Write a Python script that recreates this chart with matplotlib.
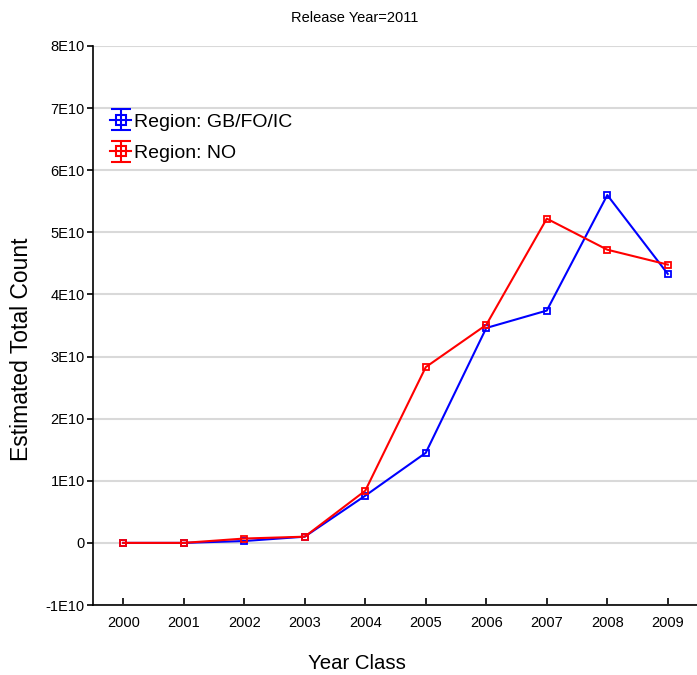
import numpy as np
import matplotlib
matplotlib.use("Agg")
import matplotlib.pyplot as plt
from matplotlib.legend_handler import HandlerErrorbar
from matplotlib.container import ErrorbarContainer

plt.rcParams['font.family'] = ['Liberation Sans', 'DejaVu Sans']

# Data
years = [2000, 2001, 2002, 2003, 2004, 2005, 2006, 2007, 2008, 2009]
gb_fo_ic = [0.0, 0.0, 0.03e10, 0.10e10, 0.76e10, 1.45e10, 3.46e10, 3.74e10, 5.60e10, 4.33e10]
no = [0.0, 0.0, 0.07e10, 0.10e10, 0.84e10, 2.83e10, 3.51e10, 5.22e10, 4.72e10, 4.48e10]
yticks = np.arange(-1e10, 8.01e10, 1e10)
ytick_labels = ["-1E10", "0", "1E10", "2E10", "3E10", "4E10", "5E10", "6E10", "7E10", "8E10"]

fig = plt.figure(figsize=(6.97, 6.75), dpi=100)
ax = fig.add_axes([0.1334, 0.1037, 0.8681, 0.8282])

series = [(gb_fo_ic, "#0000ff", "Region: GB/FO/IC"), (no, "#ff0000", "Region: NO")]
handles = []
for vals, col, lab in series:
    ax.plot(years, vals, color=col, lw=1.5, marker="s", ms=5, mfc="none", mec=col, mew=1.3, zorder=3)
    # legend handle drawn in errorbar style
    h = ax.errorbar([np.nan], [np.nan], yerr=[[1], [1]], color=col, lw=1.5, marker="s", ms=6.5,
                    mfc="none", mec=col, mew=1.5, capsize=7.5, elinewidth=1.5, capthick=1.5, label=lab)
    handles.append(h)

ax.set_xlim(1999.5, 2009.5)
ax.set_ylim(-1e10, 8e10)
ax.set_xticks(years)
ax.set_xticklabels([str(y) for y in years], fontsize=10.5)
ax.set_yticks(yticks)
ax.set_yticklabels(ytick_labels, fontsize=10.5)
ax.yaxis.grid(True, color="#d9d9d9", lw=1.5, zorder=0)
ax.set_axisbelow(True)
ax.tick_params(axis="x", direction="in", length=5, width=1.2, pad=8)
ax.tick_params(axis="y", direction="out", length=4.5, width=1.2, right=True, pad=1.5)
for s in ax.spines.values():
    s.set_linewidth(1.2)
ax.spines["top"].set_visible(False)

fig.text(355 / 697, 1 - 18 / 675, "Release Year=2011", fontsize=10.5, ha="center", va="center")
ax.set_xlabel("Year Class", fontsize=14.7, labelpad=17)
ax.set_ylabel("Estimated Total Count", fontsize=16.5, labelpad=9)
ax.xaxis.label.set_x(0.436)
ax.yaxis.label.set_y(0.458)

leg = fig.legend(handles=handles, loc="upper left", bbox_to_anchor=(110 / 697, 1 - 113 / 675),
                 frameon=False, fontsize=14, handlelength=1.1, handletextpad=0.15,
                 labelspacing=0.72, borderaxespad=0, borderpad=0,
                 handler_map={ErrorbarContainer: HandlerErrorbar(yerr_size=0.55)})

plt.savefig("out.png", dpi=100)
